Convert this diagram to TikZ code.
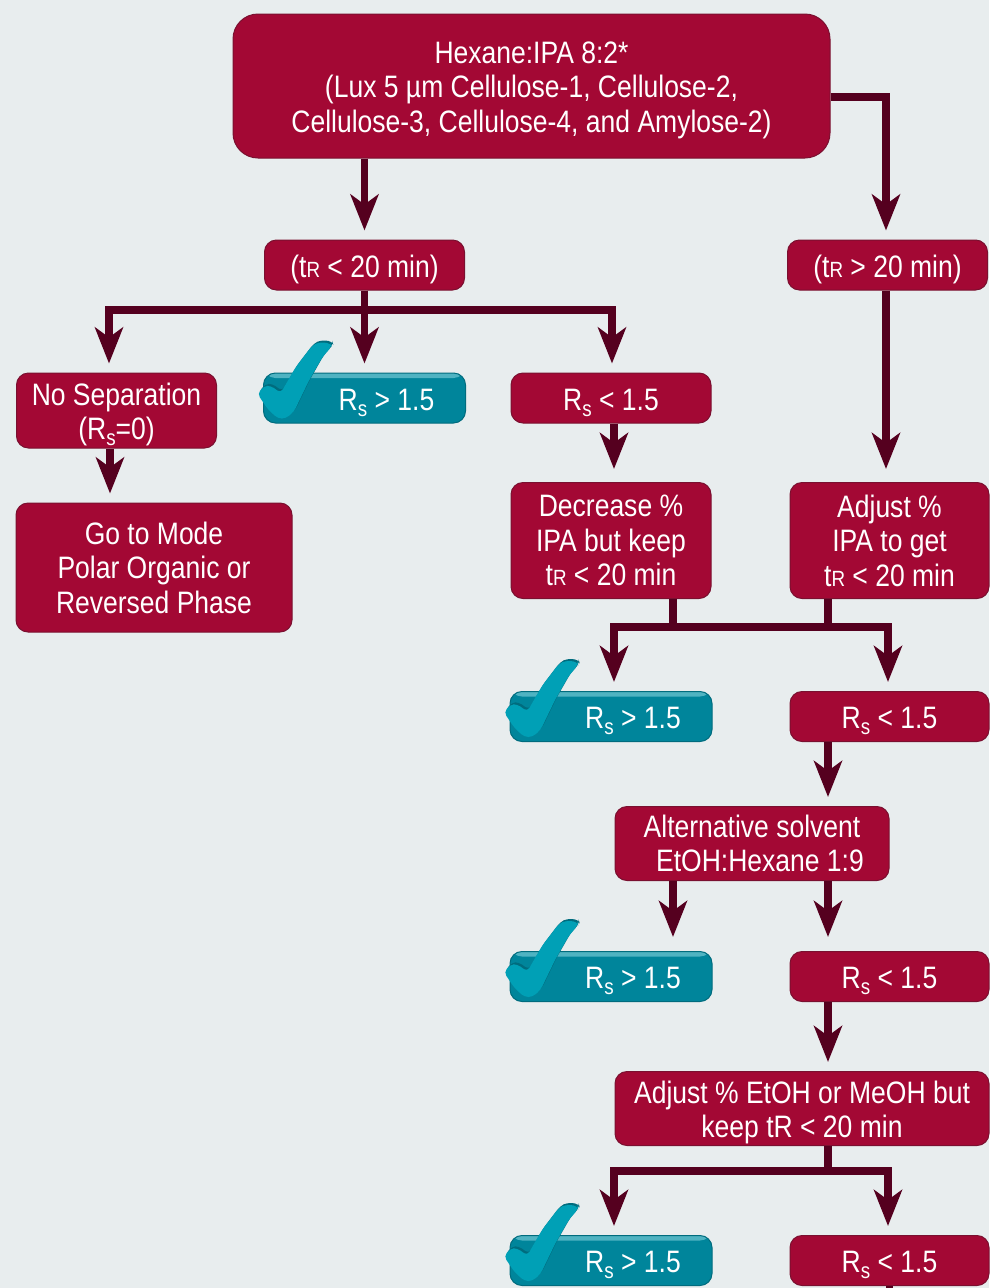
\documentclass[tikz,border=0pt]{standalone}
\usepackage{fontspec}
\setmainfont[FakeStretch=0.855]{Liberation Sans}
\usetikzlibrary{arrows.meta}
\usetikzlibrary{positioning}
\definecolor{pagebg}{HTML}{E8EDEE}
\definecolor{boxred}{HTML}{A30834}
\definecolor{boxedge}{HTML}{7A1030}
\definecolor{flowdark}{HTML}{55001F}
\definecolor{boxteal}{HTML}{00859B}
\definecolor{tealedge}{HTML}{006C7E}
\definecolor{teallight}{HTML}{4FB3C2}
\definecolor{tickteal}{HTML}{00A0B6}
\newcommand{\Rs}{R\raisebox{-6pt}{\fontsize{22}{22}\selectfont s}}
\newcommand{\tR}{t{\fontsize{22}{22}\selectfont R}}
\newcommand{\passtext}{\hspace*{44pt}\Rs{} > 1.5}
\newcommand{\dropped}[1]{\raisebox{-5pt}[\height][\depth]{\begin{tabular}{@{}c@{}}#1\end{tabular}}}
\tikzset{
    lift/.style={execute at begin node={\rule{0pt}{#1}}},
    redbox/.style={draw=boxedge, fill=boxred, line width=1pt, rounded corners=12pt, text=white,
        align=center, inner sep=0pt, minimum width=200pt, minimum height=50pt, lift=30.5pt,
        font=\fontsize{31}{34.5}\selectfont},
    passbox/.style={redbox, draw=tealedge, fill=boxteal, minimum width=202pt, lift=29pt,
        path picture={\fill[teallight] ([yshift=-5pt]path picture bounding box.north west)
            rectangle (path picture bounding box.north east);}},
    flow/.style={draw=flowdark, line width=7.5pt, shorten >=9pt,
        -{Stealth[length=36pt,width=28pt,inset=10pt]}},
    stub/.style={draw=flowdark, line width=7.5pt},
    tick/.pic={
        \fill[tealedge, rounded corners=4pt, shift={(1.5pt,2pt)}] (-5.5,-29.7) -- (1,-37.5) -- (7.7,-37.8) -- (17.7,-30.5) -- (32.7,-56.3) -- (49.3,-78) -- (56,-81.3) -- (67.7,-80.3) -- (68.7,-77) -- (59.3,-66.3) -- (46,-43) -- (31,-12) -- (22.7,-5) -- (15,-5) -- (5,-14) -- cycle;
        \fill[tickteal, rounded corners=4pt] (-5.5,-29.7) -- (1,-37.5) -- (7.7,-37.8) -- (17.7,-30.5) -- (32.7,-56.3) -- (49.3,-78) -- (56,-81.3) -- (67.7,-80.3) -- (68.7,-77) -- (59.3,-66.3) -- (46,-43) -- (31,-12) -- (22.7,-5) -- (15,-5) -- (5,-14) -- cycle;
    }
}
\begin{document}
\begin{tikzpicture}[x=1pt,y=-1pt,on grid]
    \fill[pagebg] (0,0) rectangle (989,1288);
    \useasboundingbox (0,0) rectangle (989,1288);
    % boxes
    \node[redbox, minimum width=597pt, minimum height=144pt, rounded corners=25pt, lift=0pt] (top) at (531.5,86) {\dropped{Hexane:IPA 8:2*\\(Lux 5 µm Cellulose-1, Cellulose-2,\\Cellulose-3, Cellulose-4, and Amylose-2)}};
    \node[redbox] [below left=179pt and 167pt of top] (t_1) {(\tR{} < 20 min)};
    \node[redbox] [right=523pt of t_1] (t_2) {(\tR{} > 20 min)};
    \node[redbox, minimum height=75pt, lift=0pt] [below left=145.5pt and 248pt of t_1] (n_1) {\dropped{No Separation\\(\Rs{}=0)}};
    \node[passbox] [below=133pt of t_1] (p_1) {\passtext};
    \node[redbox] [right=246.5pt of p_1] (f_1) {\Rs{} < 1.5};
    \node[redbox, minimum width=276pt, minimum height=129pt, lift=0pt] [below right=157pt and 37.5pt of n_1] (g_1) {Go to Mode\\Polar Organic or\\Reversed Phase};
    \node[redbox, minimum height=116pt, lift=0pt] [below=142.5pt of f_1] (d_1) {Decrease \%\\IPA but keep\\\tR{} < 20 min};
    \node[redbox, minimum width=199pt, minimum height=116pt, lift=0pt] [right=278.5pt of d_1] (a_1) {Adjust \%\\IPA to get\\\tR{} < 20 min};
    \node[passbox] [below=176pt of d_1] (p_2) {\passtext};
    \node[redbox, minimum width=199pt] [right=278.5pt of p_2] (f_2) {\Rs{} < 1.5};
    \node[redbox, minimum width=274pt, minimum height=74pt, lift=0pt] [below left=127pt and 137.5pt of f_2] (e_1) {Alternative solvent\\\hspace*{16pt}EtOH:Hexane 1:9};
    \node[passbox] [below left=133pt and 141pt of e_1] (p_3) {\passtext};
    \node[redbox, minimum width=199pt] [right=278.5pt of p_3] (f_3) {\Rs{} < 1.5};
    \node[redbox, minimum width=374pt, minimum height=74pt, lift=0pt] [below left=132pt and 87.5pt of f_3] (e_2) {\dropped{Adjust \% EtOH or MeOH but\\keep tR < 20 min}};
    \node[passbox] [below left=152pt and 191pt of e_2] (p_4) {\passtext};
    \node[redbox, minimum width=199pt] [right=278.5pt of p_4] (f_4) {\Rs{} < 1.5};
    % ticks
    \foreach \p in {p_1,p_2,p_3,p_4}
        \pic at (\p.south west) {tick};
    % connectors
    \coordinate (b_1) at (364.5,310);
    \coordinate (b_2) at (750,627);
    \coordinate (b_3) at (828,1171);
    \coordinate (end) at (889.5,1288);
    \draw[flow] (top.south -| t_1) -- (t_1.north);
    \draw[flow] ([yshift=-11pt]top.east) -| ([xshift=-1.5pt]t_2.north);
    \draw[flow] (t_1.south) -- (b_1) -| ([xshift=-7.5pt]n_1.north);
    \draw[flow] (t_1.south) -- (p_1.north -| t_1);
    \draw[flow] (t_1.south) -- (b_1) -| ([xshift=1pt]f_1.north);
    \draw[flow, shorten >=13pt] ([xshift=-1.5pt]t_2.south) -- ([xshift=-3.5pt]a_1.north);
    \draw[flow] ([xshift=-6.5pt]n_1.south) -- ([xshift=-44pt]g_1.north);
    \draw[flow, shorten >=13pt] ([xshift=3pt]f_1.south) -- ([xshift=3pt]d_1.north);
    \draw[stub] ([xshift=62pt]d_1.south) -- ([xshift=62pt]d_1.south |- b_2);
    \draw[stub] ([xshift=-61.5pt]a_1.south) -- ([xshift=-61.5pt]a_1.south |- b_2);
    \draw[flow] ([xshift=-61.5pt]a_1.south |- b_2) -| ([xshift=3pt]p_2.north);
    \draw[flow] ([xshift=62pt]d_1.south |- b_2) -| ([xshift=-1.5pt]f_2.north);
    \draw[flow] ([xshift=-61.5pt]f_2.south) -- ([xshift=76pt]e_1.north);
    \draw[flow, shorten >=14pt] ([xshift=-79pt]e_1.south) -- ([xshift=62pt]p_3.north);
    \draw[flow, shorten >=14pt] ([xshift=76pt]e_1.south) -- ([xshift=-61.5pt]f_3.north);
    \draw[flow] ([xshift=-61.5pt]f_3.south) -- ([xshift=26pt]e_2.north);
    \draw[stub] ([xshift=26pt]e_2.south) -- (b_3);
    \draw[flow] (b_3) -| ([xshift=3pt]p_4.north);
    \draw[flow] (b_3) -| ([xshift=-1.5pt]f_4.north);
    \draw[stub] (f_4.south) -- (end);
\end{tikzpicture}
\end{document}
